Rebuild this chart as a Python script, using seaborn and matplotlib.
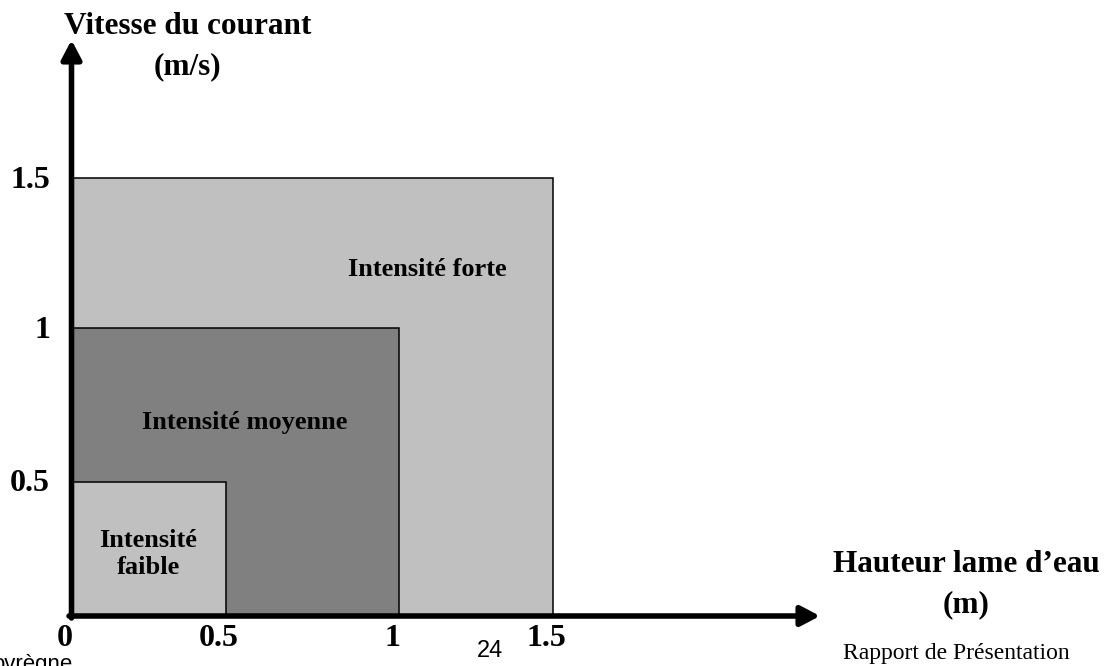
import matplotlib
matplotlib.use("Agg")
import matplotlib.pyplot as plt
import seaborn as sns

# zones (drawn from largest to smallest), extents
zones = ["Intensité forte", "Intensité moyenne", "Intensité\nfaible"]
zone_hauteur = [1.50, 1.02, 0.48]   # hauteur lame d'eau (m)
zone_vitesse = [1.50, 0.985, 0.457]  # vitesse du courant (m/s)
zone_colors = ["#c0c0c0", "#808080", "#c0c0c0"]

x_tick_labels = ["0", "0.5", "1", "1.5"]
y_tick_labels = ["0.5", "1", "1.5"]

sns.set_theme(style="white")
plt.rcParams['font.family'] = ['Liberation Serif', 'DejaVu Serif']
plt.rcParams['text.color'] = 'black'

W, H = 1105, 666
fig = plt.figure(figsize=(W / 100, H / 100), dpi=100)
ax = fig.add_axes([0, 0, 1, 1])

# pixel mapping: origin at (72, 615), 1.5 -> x 553 / y 178
x0, y0 = 72, 615
sx = (553 - x0) / 1.5
sy = (y0 - 178) / 1.5
ax.set_xlim(-x0 / sx, (W - x0) / sx)
ax.set_ylim(-(H - y0) / sy, y0 / sy)
ax.axis("off")

def px(x, y):
    return (x - x0) / sx, (y0 - y) / sy

# rectangles
for w, h, c in zip(zone_hauteur, zone_vitesse, zone_colors):
    ax.bar(0, h, width=w, align="edge", color=c, edgecolor="black", linewidth=1.1, zorder=2)

# region labels
lab_kw = dict(ha="center", va="center", fontsize=19, fontweight="bold", color="black", zorder=3)
ax.text(*px(427, 270), zones[0], **lab_kw)
ax.text(*px(245, 422), zones[1], **lab_kw)
ax.text(*px(148, 554), zones[2], **lab_kw)

# axes arrows
arrow = dict(arrowstyle="-|>,head_length=0.95,head_width=0.5", lw=4, color="black",
             shrinkA=0, shrinkB=0)
ax.annotate("", xy=px(71.5, 40), xytext=px(71.5, 618), arrowprops=arrow, zorder=4)
ax.annotate("", xy=px(820, 616), xytext=px(69, 616), arrowprops=arrow, zorder=4)

# tick labels
tick_kw = dict(fontsize=23, fontweight="bold", va="center", color="black")
x_ticks = [0] + zone_hauteur[::-1]
for v, lab in zip(x_ticks, x_tick_labels):
    ax.text(v - 7 / sx, px(0, 639)[1], lab, ha="center", **tick_kw)
for v, lab in zip(zone_vitesse[::-1], y_tick_labels):
    ax.text(px(50, 0)[0], v - 2 / sy, lab, ha="right", **tick_kw)

# axis titles
t_kw = dict(ha="center", va="center", fontsize=22.5, fontweight="bold", color="black")
fig.text(187.5 / W, 1 - 27 / H, "Vitesse du courant", **t_kw)
fig.text(187 / W, 1 - 67 / H, "(m/s)", **t_kw)
fig.text(966 / W, 1 - 564 / H, "Hauteur lame d\u2019eau", **t_kw)
fig.text(966 / W, 1 - 605 / H, "(m)", **t_kw)

# page footer
fig.text(490 / W, 1 - 651 / H, "24", ha="center", va="center", fontsize=17,
         family=["Liberation Sans"], color="black")
fig.text(956 / W, 1 - 653 / H, "Rapport de Présentation", ha="center", va="center",
         fontsize=17, color="black")
fig.text(-8 / W, -4 / H, "ovrègne", ha="left", va="baseline", fontsize=16,
         family=["Liberation Sans"], color="black")

fig.savefig("out.png", dpi=100)
